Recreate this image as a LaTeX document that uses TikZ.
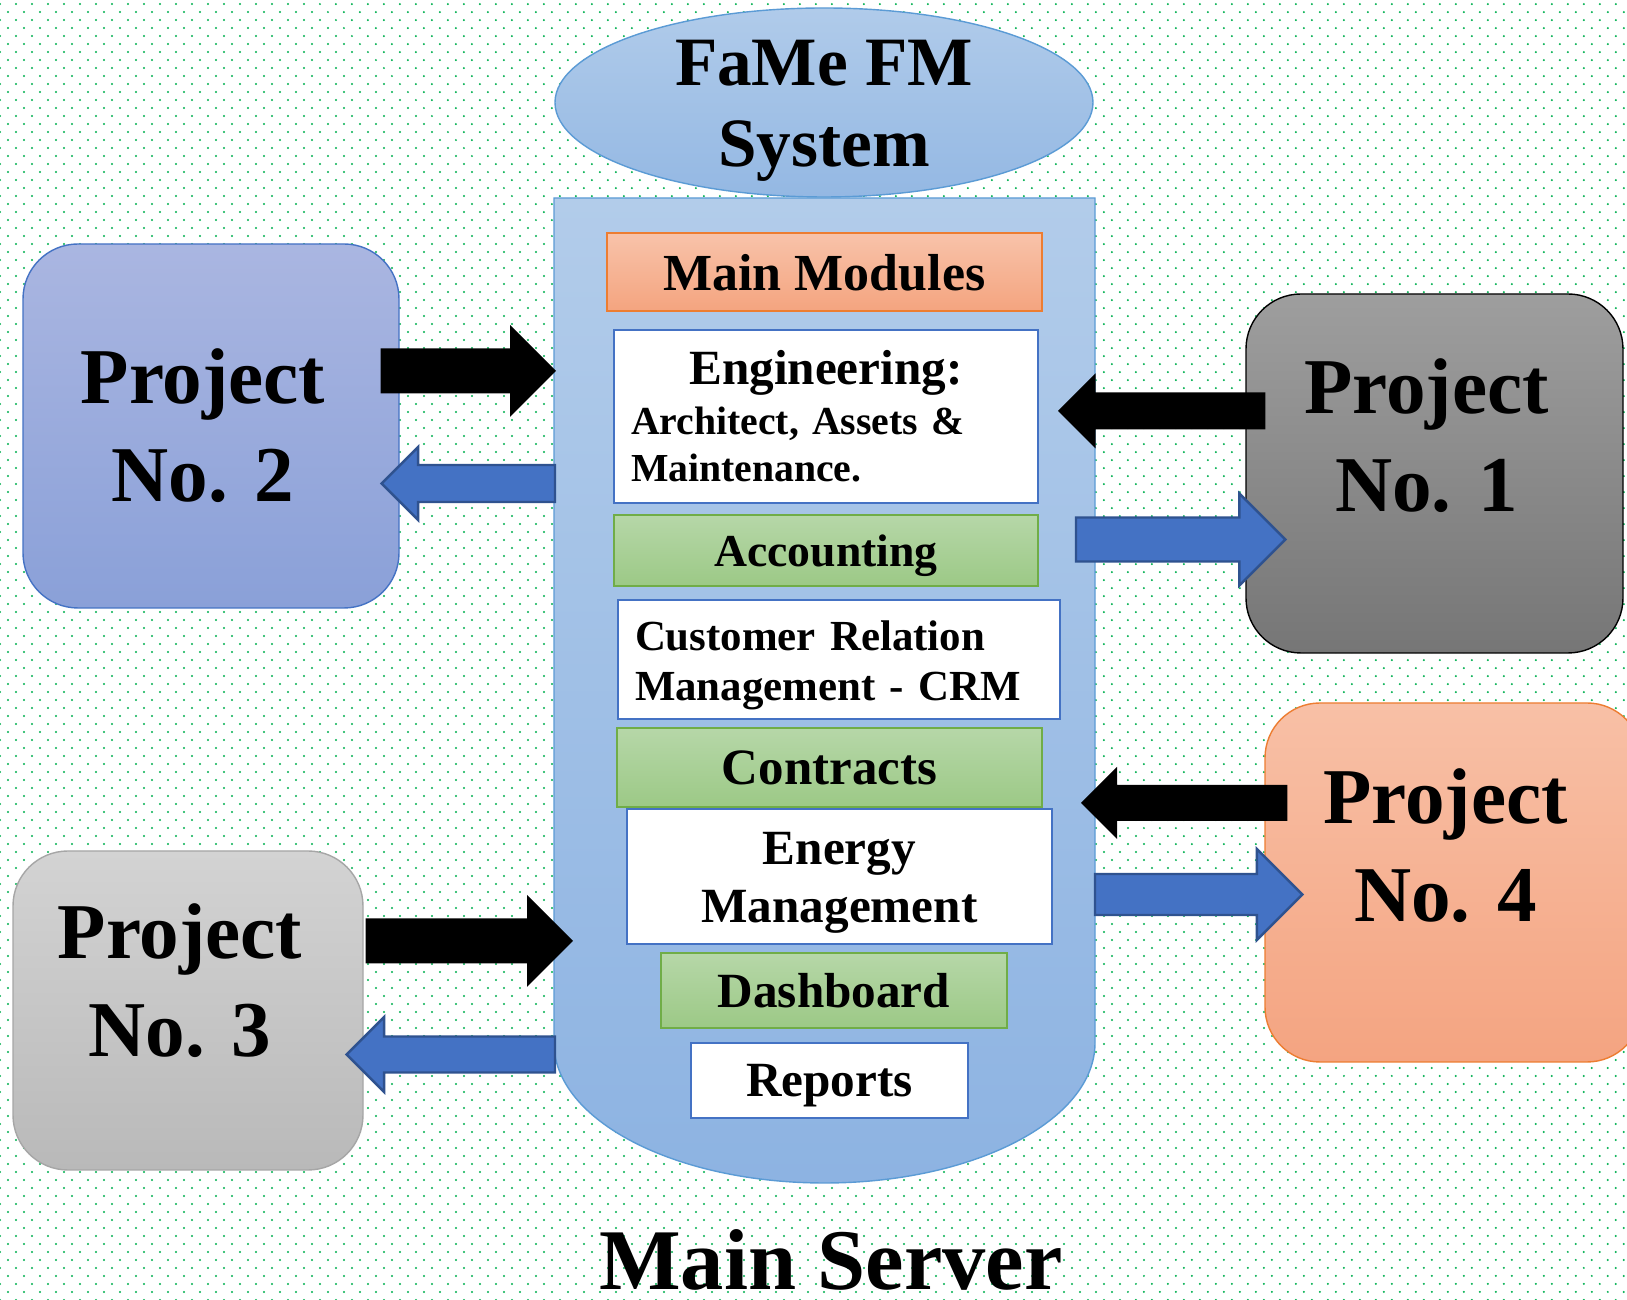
\documentclass[tikz,border=0pt]{standalone}
\usepackage{fontspec}
\setmainfont{Liberation Serif}
\usetikzlibrary{calc,shapes.geometric,patterns}

\definecolor{dotgreen}{RGB}{0,176,80}
\definecolor{cyltop}{HTML}{B2CCEA}
\definecolor{cylbot}{HTML}{8DB3E2}
\definecolor{cylline}{HTML}{5B9BD5}
\definecolor{elltop}{HTML}{B0CBEA}
\definecolor{ellbot}{HTML}{94B8E3}
\definecolor{mmtop}{HTML}{F8C3AA}
\definecolor{mmbot}{HTML}{F4A47F}
\definecolor{orline}{HTML}{ED7D31}
\definecolor{greentop}{HTML}{B6D7A8}
\definecolor{greenbot}{HTML}{9CC986}
\definecolor{accgreen}{HTML}{70AD47}
\definecolor{boxblue}{HTML}{4472C4}
\definecolor{ptwotop}{HTML}{AAB6E1}
\definecolor{ptwobot}{HTML}{8AA0D8}
\definecolor{ponetop}{HTML}{9E9E9E}
\definecolor{ponebot}{HTML}{767676}
\definecolor{pthreetop}{HTML}{D3D3D3}
\definecolor{pthreebot}{HTML}{B9B9B9}
\definecolor{pthreeline}{HTML}{A6A6A6}
\definecolor{pfourtop}{HTML}{F8C0A6}
\definecolor{pfourbot}{HTML}{F4A481}
\definecolor{arrblue}{HTML}{4472C4}
\definecolor{arrline}{HTML}{2F528F}

% staggered dot grid of the page
\pgfdeclarepatternformonly{greendots}{\pgfqpoint{-1pt}{-1pt}}{\pgfqpoint{3.5pt}{3.5pt}}{\pgfqpoint{4.552pt}{4.552pt}}{%
  \pgfpathcircle{\pgfqpoint{0pt}{0pt}}{0.32pt}%
  \pgfpathcircle{\pgfqpoint{2.276pt}{2.276pt}}{0.32pt}%
  \pgfusepath{fill}}

\newcommand\fsz[2]{\fontsize{#1}{#2}\selectfont}
% block arrow: style, from, to, half shaft, half head
\newcommand\fatarrow[5][]{%
  \coordinate (fa-b) at ($(#3)!#5!(#2)$);
  \path[#1] ($(#2)!#4!90:(#3)$) -- ($(fa-b)!#4!90:(#3)$) -- ($(fa-b)!#5!90:(#3)$) -- (#3)
    -- ($(fa-b)!#5!-90:(#3)$) -- ($(fa-b)!#4!-90:(#3)$) -- ($(#2)!#4!-90:(#3)$) -- cycle;}

\begin{document}
\begin{tikzpicture}[
  modw/.style={draw=boxblue, line width=0.7pt, fill=white, inner sep=0pt},
  modg/.style={draw=accgreen, line width=0.45pt, top color=greentop, bottom color=greenbot, inner sep=0pt, text depth=0pt},
  proj/.style={rounded corners=0.55cm, line width=0.4pt},
  ptext/.style={align=center, font=\bfseries\fsz{22.5}{27.9}, xshift=-0.08cm},
  blackarr/.style={fill=black},
  bluearr/.style={fill=arrblue, draw=arrline, line width=0.7pt},
]
 \fill[white] (0,0) rectangle (16.27,-13);
 \fill[pattern=greendots, pattern color=dotgreen] (0,0) rectangle (16.27,-13);
 \useasboundingbox (0,0) rectangle (16.27,-13);

 % server body
 \draw[draw=cylline, line width=0.4pt, top color=cyltop, bottom color=cylbot]
   (5.54,-1.98) -- (5.54,-10.43) arc[start angle=180, end angle=360, x radius=2.705, y radius=1.40] -- (10.95,-1.98) -- cycle;
 \coordinate (srvw) at (5.54,-1.98);
 \coordinate (srve) at (10.95,-1.98);

 \node[ellipse, draw=cylline, line width=0.4pt, top color=elltop, bottom color=ellbot, minimum width=5.38cm, minimum height=1.89cm, inner sep=0pt,
   label={[align=center, font=\bfseries\fsz{19.7}{23}, yshift=-0.08cm]center:FaMe FM\\System}] (title) at (8.24,-1.025) {};

 % modules
 \node[draw=orline, line width=0.5pt, top color=mmtop, bottom color=mmbot, minimum width=4.35cm, minimum height=0.78cm, inner sep=0pt, text depth=0pt,
   font=\bfseries\fsz{14.8}{16}] (mm) at (8.245,-2.72) {Main Modules};
 \node[modw, minimum width=4.24cm, minimum height=1.73cm, text width=3.90cm, align=left, font=\bfseries\fsz{11.3}{13.4}] (eng) at (8.26,-4.165)
   {\makebox[\linewidth]{\fsz{14}{14}Engineering:}\\[0.8pt] Architect, Assets \&\\ Maintenance.};
 \node[modg, minimum width=4.24cm, minimum height=0.71cm, font=\bfseries\fsz{13}{15}] (acc) at (8.26,-5.505) {Accounting};
 \node[modw, minimum width=4.42cm, minimum height=1.19cm,
   label={[text width=4.08cm, align=left, font=\bfseries\frenchspacing\fsz{12.2}{14.2}, yshift=-0.06cm]center:Customer Relation\\ Management - CRM}] (crm) at (8.39,-6.595) {};
 \node[modg, minimum width=4.25cm, minimum height=0.79cm, font=\bfseries\fsz{14.5}{16}] (con) at (8.295,-7.675) {Contracts};
 \node[modw, minimum width=4.25cm, minimum height=1.35cm,
   label={[align=center, font=\bfseries\fsz{14}{16.5}, yshift=-0.06cm]center:Energy\\Management}] (ene) at (8.395,-8.765) {};
 \node[modg, minimum width=3.46cm, minimum height=0.75cm, font=\bfseries\fsz{14}{16}] (dash) at (8.34,-9.905) {Dashboard};
 \node[modw, minimum width=2.77cm, minimum height=0.75cm, text depth=0pt, font=\bfseries\fsz{14}{16}] (rep) at (8.295,-10.805) {Reports};

 % projects
 \node[proj, draw=black, top color=ponetop, bottom color=ponebot, minimum width=3.77cm, minimum height=3.59cm,
   label={[ptext, yshift=0.38cm]center:Project\\No. 1}] (p1) at (14.345,-4.735) {};
 \node[proj, draw=boxblue, top color=ptwotop, bottom color=ptwobot, minimum width=3.76cm, minimum height=3.64cm,
   label={[ptext]center:Project\\No. 2}] (p2) at (2.11,-4.26) {};
 \node[proj, draw=pthreeline, top color=pthreetop, bottom color=pthreebot, minimum width=3.50cm, minimum height=3.19cm,
   label={[ptext, yshift=0.30cm]center:Project\\No. 3}] (p3) at (1.88,-10.105) {};
 \node[proj, draw=orline, top color=pfourtop, bottom color=pfourbot, minimum width=3.77cm, minimum height=3.59cm,
   label={[ptext, yshift=0.37cm]center:Project\\No. 4}] (p4) at (14.535,-8.825) {};

 % arrows in and out of the server
 \coordinate (p2o) at ($(p2.east)+(-0.19,0.55)$);
 \coordinate (p2i) at ($(p2.east)+(-0.18,-0.575)$);
 \coordinate (p1o) at ($(p1.west)+(0.20,0.625)$);
 \coordinate (p1i) at ($(p1.west)+(0.40,-0.66)$);
 \coordinate (p3o) at ($(p3.east)+(0.02,0.695)$);
 \coordinate (p3i) at ($(p3.east)+(-0.17,-0.44)$);
 \coordinate (p4o) at ($(p4.west)+(0.23,0.795)$);
 \coordinate (p4i) at ($(p4.west)+(0.38,-0.12)$);
 \coordinate (s2i) at ($(srvw |- p2o)+(0.02,0)$);
 \coordinate (s2o) at ($(srvw |- p2i)+(0.01,0)$);
 \coordinate (s1i) at ($(srve |- p1o)+(-0.37,0)$);
 \coordinate (s1o) at ($(srve |- p1i)+(-0.19,0)$);
 \coordinate (s3i) at ($(srvw |- p3o)+(0.19,0)$);
 \coordinate (s3o) at ($(srvw |- p3i)+(0.01,0)$);
 \coordinate (s4i) at ($(srve |- p4o)+(-0.14,0)$);
 \coordinate (s4o) at (srve |- p4i);

 \fatarrow[blackarr]{p2o}{s2i}{0.225cm}{0.46cm}
 \fatarrow[bluearr]{s2o}{p2i}{0.185cm}{0.365cm}
 \fatarrow[blackarr]{p1o}{s1i}{0.185cm}{0.375cm}
 \fatarrow[bluearr]{s1o}{p1i}{0.22cm}{0.46cm}
 \fatarrow[blackarr]{p3o}{s3i}{0.225cm}{0.46cm}
 \fatarrow[bluearr]{s3o}{p3i}{0.18cm}{0.375cm}
 \fatarrow[blackarr]{p4o}{s4i}{0.18cm}{0.36cm}
 \fatarrow[bluearr]{s4o}{p4i}{0.205cm}{0.455cm}

 \node[anchor=base, inner sep=0pt, font=\bfseries\fsz{24.6}{28}] (srv) at (8.31,-12.90) {Main Server};
\end{tikzpicture}
\end{document}
